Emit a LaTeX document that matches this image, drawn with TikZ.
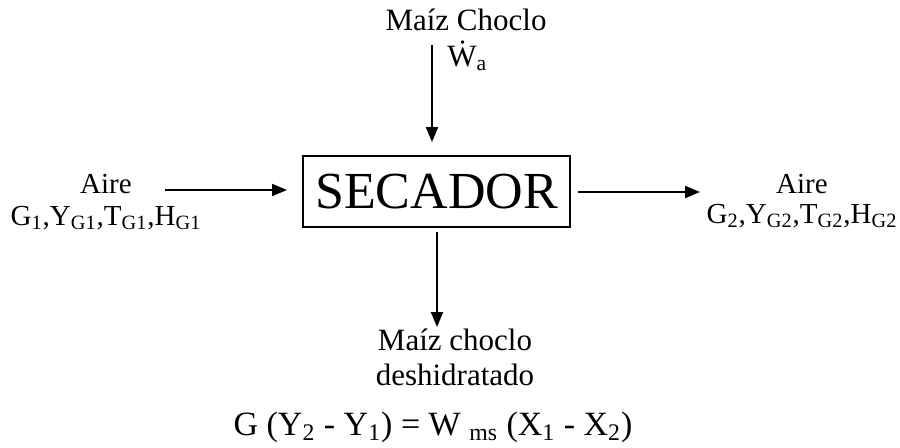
\documentclass[tikz,border=0pt]{standalone}
\usepackage{fontspec}
\setmainfont{Liberation Serif}
\usetikzlibrary{arrows.meta,positioning,calc}
\definecolor{linecolor}{RGB}{0,0,0}
\definecolor{labelcolor}{RGB}{0,0,0}
\tikzset{
labeltext/.style={
  font=\fontsize{15.5}{17.5}\selectfont,
  text=labelcolor,
  align=center,
  inner sep=0pt
},
airtext/.style={
  labeltext,
  font=\fontsize{14.5}{16}\selectfont
},
dryerblock/.style={
  draw=linecolor,
  line width=1pt,
  minimum width=133.5pt,
  minimum height=35.5pt,
  inner sep=0pt,
  font=\fontsize{26}{28}\selectfont
},
flow/.style={
  -{Triangle[length=7.5pt,width=6pt]},
  line width=1pt,
  draw=linecolor
}
}

\begin{document}
\begin{tikzpicture}[x=0.5pt, y=-0.5pt]

\useasboundingbox (0,0) rectangle (900,447);

% ============================================================================
% SECADOR
% ============================================================================
\node[dryerblock] (dryer) at (436.5,191.5) {SECADOR};

% ============================================================================
% ENTRADAS
% ============================================================================
\node[labeltext, anchor=base] (cornin) at (466,30) {Maíz Choclo};
\node[labeltext, anchor=base west] (wa) at (447,66) {\.{W}\textsubscript{a}};
\coordinate (cornstart) at (432,45);
\coordinate (cornend) at (432,142);

\node[airtext, anchor=base] (airin) at (106,225)
  {Aire\\G\textsubscript{1},Y\textsubscript{G1},T\textsubscript{G1},H\textsubscript{G1}};
\coordinate (airinstart) at (165,190);
\coordinate (airinend) at (287,190);

\draw[flow] (cornstart) -- (cornend);
\draw[flow] (airinstart) -- (airinend);

% ============================================================================
% SALIDAS
% ============================================================================
\node[airtext, anchor=base, font=\fontsize{14.5}{15}\selectfont] (airout) at (802,223)
  {Aire\\G\textsubscript{2},Y\textsubscript{G2},T\textsubscript{G2},H\textsubscript{G2}};
\coordinate (airoutstart) at (578,192);
\coordinate (airoutend) at (700,192);

\node[labeltext, anchor=base] (cornout) at (455,385)
  {Maíz choclo\\deshidratado};
\coordinate (cornoutstart) at (437,232);
\coordinate (cornoutend) at (437,327);

\draw[flow] (airoutstart) -- (airoutend);
\draw[flow] (cornoutstart) -- (cornoutend);

% ============================================================================
% BALANCE
% ============================================================================
\node[labeltext, anchor=base, font=\fontsize{17}{19}\selectfont] (balance) at (433,435)
  {G (Y\textsubscript{2} - Y\textsubscript{1}) = W \textsubscript{ms} (X\textsubscript{1} - X\textsubscript{2})};

\end{tikzpicture}
\end{document}
